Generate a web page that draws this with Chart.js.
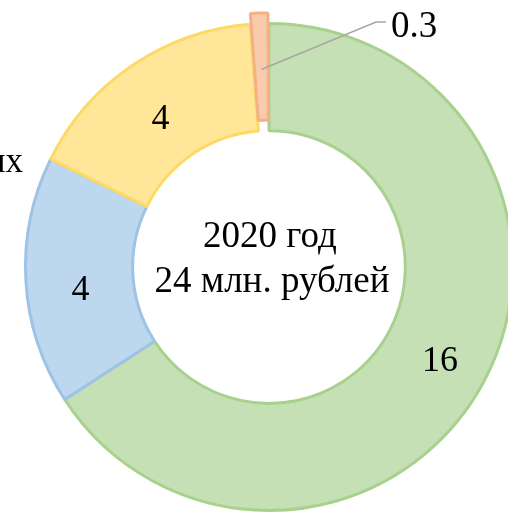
<!DOCTYPE html>
<html>
<head>
<meta charset="utf-8">
<script src="https://cdn.jsdelivr.net/npm/chart.js@4/dist/chart.umd.min.js"></script>
<style>
  html, body { margin:0; padding:0; background:#fff; overflow:hidden; }
  #wrap { position:relative; width:508px; height:514px; overflow:hidden; }
  #box { position:absolute; left:-11px; top:-13px; width:560px; height:560px; }
</style>
</head>
<body>
<div id="wrap"><div id="box"><canvas id="donut-area"></canvas></div></div>
<script>
//////////////////
// Donut 2020

var categories = ["Собственные средства","Федеральный бюджет","Внебюджетных","Прочие"];
var values2020 = [16, 4, 4, 0.3];
var fillColors = ["#C5E0B4","#BDD7EE","#FFE699","#F8CBAD"];
var lineColors = ["#A9D18E","#9DC3E6","#FFD966","#F4B183"];
var sliceOffset = [0, 0, 0, 22];
var centerLines = ["2020 год", "24 млн. рублей"];

var FONT = '"Liberation Serif", "Times New Roman", serif';

var labelsPlugin = {
  id: 'sliceLabels',
  afterDatasetsDraw: function(chart) {
    var ctx = chart.ctx;
    var arcs = chart.getDatasetMeta(0).data;
    ctx.save();
    ctx.fillStyle = '#000';
    ctx.font = '36px ' + FONT;
    ctx.textAlign = 'center';
    ctx.textBaseline = 'middle';
    var nudge = [[4, 4], [1, 13], [-2, 10]];
    for (var i = 0; i < 3; i++) {
      var p = arcs[i].tooltipPosition();
      ctx.fillText(String(values2020[i]), p.x + nudge[i][0], p.y + nudge[i][1]);
    }
    // small slice: leader line + label (slice is pushed out by about offset / 2)
    var a = arcs[3];
    var mid = (a.startAngle + a.endAngle) / 2;
    var r = a.innerRadius + (a.outerRadius - a.innerRadius) * 0.47 + sliceOffset[3] / 2;
    var sx = a.x + Math.cos(mid) * r, sy = a.y + Math.sin(mid) * r;
    ctx.strokeStyle = '#A6A6A6';
    ctx.lineWidth = 1.5;
    ctx.beginPath();
    ctx.moveTo(sx, sy);
    ctx.lineTo(387, 35);
    ctx.lineTo(397, 35);
    ctx.stroke();
    ctx.textAlign = 'left';
    ctx.font = '37px ' + FONT;
    ctx.fillText(String(values2020[3]), 402, 40);
    // category label partly outside the picture
    ctx.textAlign = 'right';
    ctx.font = '35px ' + FONT;
    ctx.fillText(categories[2].toLowerCase(), 34, 176);
    // centre text
    ctx.textAlign = 'center';
    ctx.font = '37px ' + FONT;
    ctx.fillText(centerLines[0], a.x + 1, a.y - 30);
    ctx.fillText(centerLines[1], a.x + 3, a.y + 15);
    ctx.restore();
  }
};

var donutConfig = {
  type: 'doughnut',
  data: {
    labels: categories,
    datasets: [{
      data: values2020,
      backgroundColor: fillColors,
      borderColor: lineColors,
      borderWidth: 3,
      offset: sliceOffset
    }]
  },
  options: {
    responsive: true,
    maintainAspectRatio: false,
    animation: false,
    cutout: '56%',
    layout: { padding: 24 },
    plugins: {
      legend: { display: false },
      tooltip: { enabled: false }
    }
  },
  plugins: [labelsPlugin]
};

var ctxDonut = document.getElementById('donut-area').getContext('2d');
var chartDonut = new Chart(ctxDonut, donutConfig);
</script>
</body>
</html>
